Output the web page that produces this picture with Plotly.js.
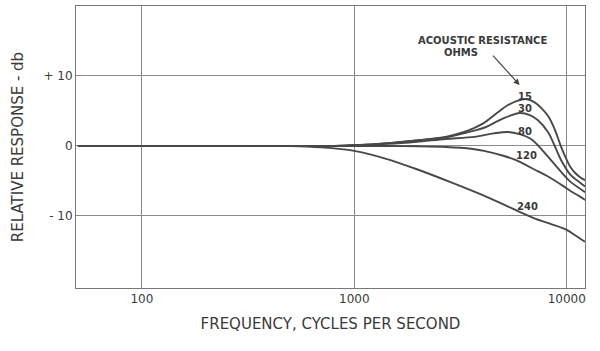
<!DOCTYPE html>
<html>
<head>
<meta charset="utf-8">
<script src="https://cdn.plot.ly/plotly-3.0.1.min.js"></script>
<style>html,body{margin:0;padding:0;background:#fff;}#chart{width:600px;height:351px;}</style>
</head>
<body>
<div id="chart"></div>
<script>
// Frequency (Hz) and relative response (dB) for each acoustic resistance (ohms)
const f15  = [50, 300, 800, 1000, 1440, 1970, 2690, 3200, 3680, 4080, 4600, 5200, 5800, 6400, 7000, 7600, 8200, 8800, 9400, 10000, 10400, 11000, 11600, 12200];
const d15  = [0, 0, 0, 0.1, 0.4, 0.8, 1.3, 1.9, 2.6, 3.3, 4.5, 5.7, 6.4, 6.7, 6.3, 5.4, 4.2, 2.3, -0.1, -2.0, -3.0, -3.9, -4.5, -4.9];
const f30  = [50, 300, 800, 1000, 1440, 1970, 2690, 3680, 4080, 5000, 6000, 6700, 7300, 8200, 9400, 10400, 11600, 12200];
const d30  = [0, 0, 0, 0.1, 0.4, 0.8, 1.2, 2.2, 2.6, 3.9, 4.7, 4.4, 3.7, 1.9, -2.0, -4.1, -5.3, -5.8];
const f80  = [50, 300, 800, 1000, 1440, 1970, 2690, 3680, 4530, 5300, 6000, 6870, 8200, 9400, 10400, 12200];
const d80  = [0, 0, 0, 0.1, 0.3, 0.6, 1.0, 1.3, 1.8, 2.0, 1.7, 0.9, -1.6, -3.7, -5.1, -6.6];
const f120 = [50, 300, 1000, 1500, 2000, 2700, 3550, 4080, 5030, 5740, 7080, 8200, 9600, 10500, 11500, 12200];
const d120 = [0, 0, 0, 0, -0.05, -0.15, -0.4, -0.7, -1.4, -2.0, -3.4, -4.4, -5.7, -6.5, -7.2, -7.7];
const f240 = [50, 300, 500, 700, 1000, 1400, 2000, 2800, 4000, 5600, 7000, 8500, 10000, 11000, 12200];
const d240 = [0, 0, 0, -0.2, -0.7, -1.8, -3.4, -5.1, -7.0, -9.0, -10.3, -11.2, -12.0, -12.8, -13.7];

const seriesNames = ["15", "30", "80", "120", "240"];
const seriesF = [f15, f30, f80, f120, f240];
const seriesD = [d15, d30, d80, d120, d240];
// label anchor positions (Hz, dB)
const labelF = [6390, 6390, 6390, 6460, 6530];
const labelD = [7.1, 5.3, 2.1, -1.3, -8.7];

const xTickVals = [100, 1000, 10000];
const xTickText = ["100", "1000", "10000"];
const yTickVals = [-10, 0, 10];
const yTickText = ["- 10", "0", "+ 10"];

const lineColor = "#484848";
const traces = seriesNames.map((n, i) => ({
  x: seriesF[i], y: seriesD[i], type: "scatter", mode: "lines", name: n,
  line: {color: lineColor, width: 1.9, shape: "spline", smoothing: 0.8},
  hoverinfo: "skip"
}));

const txtFont = {family: "DejaVu Sans, sans-serif", color: "#3a3a3a"};
const annotations = seriesNames.map((n, i) => ({
  x: Math.log10(labelF[i]), y: labelD[i], xref: "x", yref: "y",
  text: "<b>" + n + "</b>", showarrow: false,
  font: Object.assign({size: 10}, txtFont)
}));
annotations.push({
  x: Math.log10(4000), y: 15, xref: "x", yref: "y",
  text: "<b>ACOUSTIC RESISTANCE</b>", showarrow: false,
  font: Object.assign({size: 10}, txtFont)
});
annotations.push({
  x: Math.log10(3180), y: 13.4, xref: "x", yref: "y",
  text: "<b>OHMS</b>", showarrow: false,
  font: Object.assign({size: 10}, txtFont)
});
annotations.push({
  x: Math.log10(6000), y: 8.7, xref: "x", yref: "y",
  text: "", showarrow: true, arrowhead: 2, arrowsize: 1, arrowwidth: 1.2,
  arrowcolor: "#444", ax: -28, ay: -31
});

const layout = {
  width: 600, height: 351,
  margin: {l: 76, r: 15, t: 6, b: 63},
  paper_bgcolor: "#fff", plot_bgcolor: "#fff",
  showlegend: false,
  xaxis: {
    type: "log", range: [1.69, 4.086],
    tickvals: xTickVals, ticktext: xTickText,
    showgrid: true, gridcolor: "#8a8a8a", gridwidth: 1,
    showline: true, linecolor: "#777", linewidth: 1, mirror: true,
    ticks: "", zeroline: false,
    tickfont: Object.assign({size: 12}, txtFont),
    title: {text: "FREQUENCY, CYCLES PER SECOND", standoff: 13,
            font: Object.assign({size: 15}, txtFont)}
  },
  yaxis: {
    range: [-20.3, 20],
    tickvals: yTickVals, ticktext: yTickText,
    showgrid: true, gridcolor: "#8a8a8a", gridwidth: 1,
    showline: true, linecolor: "#777", linewidth: 1, mirror: true,
    ticks: "", zeroline: false,
    tickfont: Object.assign({size: 12}, txtFont),
    title: {text: "RELATIVE RESPONSE - db", standoff: 16,
            font: Object.assign({size: 15}, txtFont)}
  },
  annotations: annotations
};

Plotly.newPlot("chart", traces, layout, {staticPlot: true, displayModeBar: false});
</script>
</body>
</html>
